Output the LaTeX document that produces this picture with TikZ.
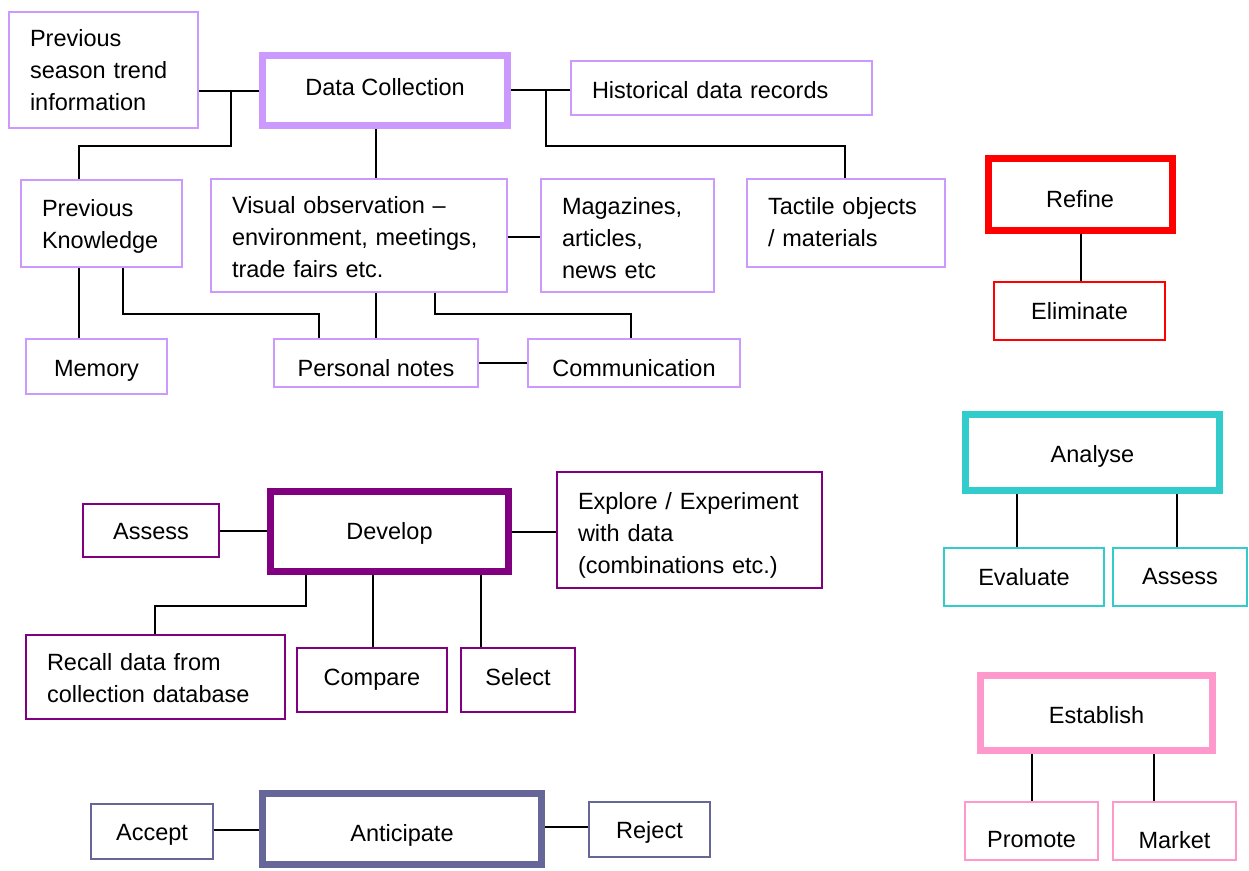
\documentclass[tikz,border=0pt]{standalone}
\usepackage{fontspec}
\setmainfont{Liberation Sans}
\definecolor{lpurple}{HTML}{CC99FF}
\definecolor{dpurple}{HTML}{800080}
\definecolor{slate}{HTML}{666699}
\definecolor{teal2}{HTML}{33CCCC}
\definecolor{pink2}{HTML}{FF99CC}
\definecolor{red2}{HTML}{FF0000}
\newcommand\dropT[2]{\raisebox{-#1pt}[\height][\depth]{#2}}
\newcommand\dropL[2]{\raisebox{-#1pt}[\height][\depth]{\begin{tabular}{@{}l@{}}#2\end{tabular}}}
\tikzset{
  box/.style={draw=#1, line width=2pt, fill=white, inner sep=0pt,
    font=\fontsize{23.5}{32}\selectfont},
  tbox/.style={box=#1, line width=7pt},
  sz/.style 2 args={minimum width=#1pt, minimum height=#2pt},
  lft/.style={align=left, inner xsep=21pt, text width=#1pt-42pt},
  conn/.style={draw=black, line width=2pt}
}
\begin{document}
\begin{tikzpicture}[x=1pt,y=-1pt]
\useasboundingbox[fill=white] (0,0) rectangle (1249,870);
% ---- Data collection group
\node[box=lpurple, sz={189}{116}, lft=189] (prevseason) at (103.5,70) {\dropL{2}{Previous\\season trend\\information}};
\node[tbox=lpurple, sz={245}{70}] (datacol) at (385,90.5) {\dropT{-3}{Data Collection}};
\node[box=lpurple, sz={301}{54}, lft=301] (hist) at (721.5,88) {\dropT{2}{Historical data records}};
\node[box=lpurple, sz={161}{87}, lft=161] (prevknow) at (101.5,223.5) {\dropL{3}{Previous\\Knowledge}};
\node[box=lpurple, sz={296}{113}, lft=296] (visual) at (359,235.5) {\dropL{4}{Visual observation --\\environment, meetings,\\trade fairs etc.}};
\node[box=lpurple, sz={173}{113}, lft=173] (mag) at (627.5,235.5) {\dropL{4.5}{Magazines,\\articles,\\news etc}};
\node[box=lpurple, sz={198}{88}, lft=198] (tactile) at (846,223) {\dropL{1}{Tactile objects\\/ materials}};
\node[box=lpurple, sz={141}{55}] (memory) at (96.5,366.5) {\dropT{4}{Memory}};
\node[box=lpurple, sz={204}{48}] (notes) at (376,363) {\dropT{5}{Personal notes}};
\node[box=lpurple, sz={212}{48}] (comm) at (634,363) {\dropT{5}{Communication}};
% ---- Refine
\node[tbox=red2, sz={184}{72}] (refine) at (1080,194) {\dropT{5}{Refine}};
\node[box=red2, sz={171}{58}] (elim) at (1079.5,311) {Eliminate};
% ---- Analyse
\node[tbox=teal2, sz={254}{76}] (analyse) at (1092.5,452.5) {\dropT{4}{Analyse}};
\node[box=teal2, sz={160}{58}] (evaluate) at (1024,577) {Evaluate};
\node[box=teal2, sz={134}{58}] (assessb) at (1180,577) {Assess};
% ---- Establish
\node[tbox=pink2, sz={232}{75}] (establish) at (1096.5,713) {\dropT{2}{Establish}};
\node[box=pink2, sz={133}{58}] (promote) at (1031.5,831) {\dropT{9}{Promote}};
\node[box=pink2, sz={123}{58}] (market) at (1174.5,831) {\dropT{9}{Market}};
% ---- Develop
\node[box=dpurple, sz={136}{53}] (assessa) at (151,530.5) {\dropT{1}{Assess}};
\node[tbox=dpurple, sz={238}{80}] (develop) at (389.5,531.5) {\dropT{2}{Develop}};
\node[box=dpurple, sz={265}{116}, lft=265] (explore) at (689.5,530) {\dropL{5}{Explore / Experiment\\with data\\(combinations etc.)}};
\node[box=dpurple, sz={259}{84}, lft=259] (recall) at (155.5,677) {\dropL{3}{Recall data from\\collection database}};
\node[box=dpurple, sz={150}{64}] (compare) at (372,680) {Compare};
\node[box=dpurple, sz={114}{64}] (select) at (518,680) {\dropT{-3}{Select}};
% ---- Anticipate
\node[box=slate, sz={122}{55}] (accept) at (152,831.5) {\dropT{3}{Accept}};
\node[tbox=slate, sz={279}{71}] (anticipate) at (402,829) {\dropT{6}{Anticipate}};
\node[box=slate, sz={121}{55}] (reject) at (649.5,829.5) {\dropT{3}{Reject}};
% ---- junctions
\coordinate (j1) at (231,91);
\coordinate (j2) at (546,90);
% ---- connectors
\draw[conn] (prevseason.east |- 0,91) -- (datacol.west |- 0,91);
\draw[conn] (j1) -- (231,146) -- (79,146) -- (prevknow.north -| 79,0);
\draw[conn] (datacol.south -| 376,0) -- (visual.north -| 376,0);
\draw[conn] (datacol.east |- 0,90) -- (hist.west |- 0,90);
\draw[conn] (j2) -- (546,146) -- (845,146) -- (tactile.north -| 845,0);
\draw[conn] (visual.east |- 0,237) -- (mag.west |- 0,237);
\draw[conn] (prevknow.south -| 79,0) -- (memory.north -| 79,0);
\draw[conn] (prevknow.south -| 123,0) -- (123,314) -- (319,314) -- (notes.north -| 319,0);
\draw[conn] (visual.south -| 376,0) -- (notes.north -| 376,0);
\draw[conn] (visual.south -| 435,0) -- (435,314) -- (631,314) -- (comm.north -| 631,0);
\draw[conn] (notes.east |- 0,363) -- (comm.west |- 0,363);
\draw[conn] (refine.south -| 1081,0) -- (elim.north -| 1081,0);
\draw[conn] (analyse.south -| 1017,0) -- (evaluate.north -| 1017,0);
\draw[conn] (analyse.south -| 1177,0) -- (assessb.north -| 1177,0);
\draw[conn] (establish.south -| 1032,0) -- (promote.north -| 1032,0);
\draw[conn] (establish.south -| 1154,0) -- (market.north -| 1154,0);
\draw[conn] (assessa.east |- 0,531) -- (develop.west |- 0,531);
\draw[conn] (develop.east |- 0,532) -- (explore.west |- 0,532);
\draw[conn] (develop.south -| 306,0) -- (306,606) -- (155,606) -- (recall.north -| 155,0);
\draw[conn] (develop.south -| 373,0) -- (compare.north -| 373,0);
\draw[conn] (develop.south -| 481,0) -- (select.north -| 481,0);
\draw[conn] (accept.east |- 0,830) -- (anticipate.west |- 0,830);
\draw[conn] (anticipate.east |- 0,827) -- (reject.west |- 0,827);
\end{tikzpicture}
\end{document}
